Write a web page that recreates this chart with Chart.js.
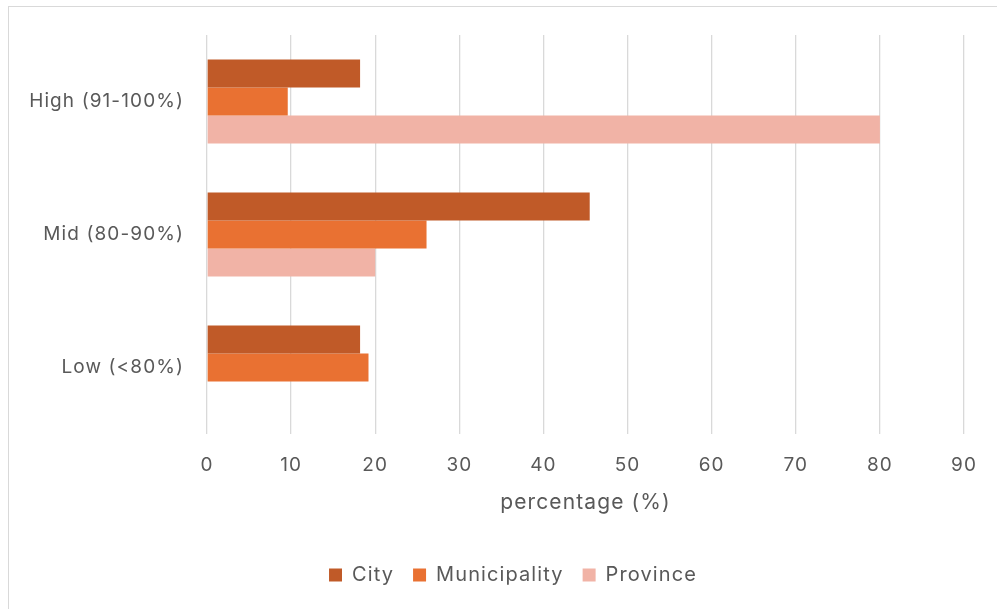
<!DOCTYPE html>
<html>
<head>
<meta charset="utf-8">
<script src="https://cdn.jsdelivr.net/npm/chart.js@4/dist/chart.umd.min.js"></script>
<style>
  html, body { margin: 0; padding: 0; background: #ffffff; overflow: hidden; }
  #frame { position: absolute; left: 8px; top: 6px; width: 1000px; height: 620px; border: 1px solid #d9d9d9; box-sizing: border-box; }
  #wrap { position: absolute; left: 0; top: 0; width: 997px; height: 609px; }
</style>
</head>
<body>
<div id="frame"></div>
<div id="wrap"><canvas id="c" width="997" height="609"></canvas></div>
<script>
const categories = ['High (91-100%)', 'Mid (80-90%)', 'Low (<80%)'];
const seriesNames = ['City', 'Municipality', 'Province'];
const cityValues = [18.2, 45.5, 18.2];
const municipalityValues = [9.6, 26.1, 19.2];
const provinceValues = [80, 20, 0];
const xTicks = [0, 10, 20, 30, 40, 50, 60, 70, 80, 90];
const axisTitle = 'percentage (%)';

const colors = ['#C05A28', '#E97132', '#F1B3A6'];
const textColor = '#595959';
const fontFamily = 'Inter, "Open Sans", sans-serif';

const data = {
  labels: categories,
  datasets: [cityValues, municipalityValues, provinceValues].map((vals, i) => ({
    label: seriesNames[i],
    data: vals,
    backgroundColor: colors[i],
    borderWidth: 0,
    categoryPercentage: 0.63,
    barPercentage: 1.0
  }))
};

const spacingPlugin = {
  id: 'spacing',
  beforeUpdate(chart) { chart.ctx.letterSpacing = '1.1px'; },
  afterLayout(chart) {
    if (chart.legend) { chart.legend.left += 30; chart.legend.right += 30; }
  },
  beforeDraw(chart) { chart.ctx.letterSpacing = '1.1px'; }
};

new Chart(document.getElementById('c'), {
  type: 'bar',
  data: data,
  plugins: [spacingPlugin],
  options: {
    indexAxis: 'y',
    responsive: false,
    animation: false,
    devicePixelRatio: 1,
    layout: { padding: { top: 35, right: 31, left: 0, bottom: 14 } },
    plugins: {
      legend: {
        position: 'bottom',
        labels: {
          color: textColor,
          font: { family: fontFamily, size: 20 },
          boxWidth: 13,
          boxHeight: 13,
          padding: 19
        }
      },
      tooltip: { enabled: false }
    },
    scales: {
      x: {
        min: 0,
        max: 90,
        afterBuildTicks: (scale) => { scale.ticks = xTicks.map(v => ({ value: v })); },
        ticks: { color: textColor, font: { family: fontFamily, size: 19 }, padding: 20 },
        grid: { color: '#d9d9d9', lineWidth: 1.3, drawTicks: false },
        border: { display: false },
        title: {
          display: true,
          text: axisTitle,
          color: textColor,
          font: { family: fontFamily, size: 21 },
          padding: { top: 10, bottom: 31 }
        },
        afterFit: (scale) => { scale.height = 112; }
      },
      y: {
        ticks: { color: textColor, font: { family: fontFamily, size: 19 }, padding: 23 },
        grid: { display: false, drawTicks: false },
        border: { display: false },
        afterFit: (scale) => { scale.width = 207; }
      }
    }
  }
});
</script>
</body>
</html>
